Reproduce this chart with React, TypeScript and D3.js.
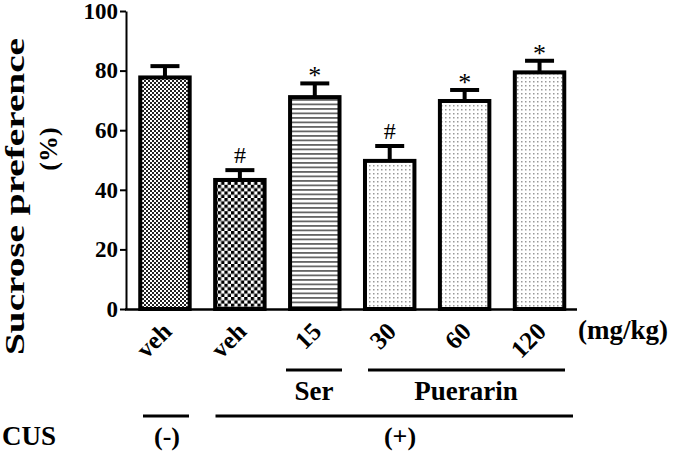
import React, { useEffect, useRef } from "react";
import * as d3 from "d3";

const categories = ["veh", "veh", "15", "30", "60", "120"];
const means = [77.7, 43.3, 71.1, 49.7, 69.8, 79.4];
const errors = [3.8, 3.3, 4.6, 5.0, 3.7, 3.9];
const marks = ["", "#", "*", "#", "*", "*"];
const patterns = ["p1", "p2", "p3", "p4", "p4", "p4"];
const yTicks = [0, 20, 40, 60, 80, 100];

const W = 675;
const H = 454;
const FONT = "'Liberation Serif', 'Times New Roman', serif";

export default function App() {
  const axisRef = useRef<SVGGElement>(null);
  const y = d3.scaleLinear().domain([0, 100]).range([309, 11]);
  const x = d3
    .scaleBand<number>()
    .domain(d3.range(categories.length))
    .range([127.5, 577])
    .paddingInner(0.34)
    .paddingOuter(0.17);

  useEffect(() => {
    if (!axisRef.current) return;
    const g = d3.select(axisRef.current);
    g.selectAll("*").remove();
    g.call(
      d3
        .axisLeft(y)
        .tickValues(yTicks)
        .tickSize(6)
        .tickSizeOuter(0)
        .tickPadding(2)
        .tickFormat(d3.format("d") as any)
    );
    g.select(".domain").attr("stroke", "#000").attr("stroke-width", 2);
    g.selectAll(".tick line").attr("stroke", "#000").attr("stroke-width", 2);
    g.selectAll(".tick text")
      .attr("fill", "#000")
      .style("font-family", FONT)
      .style("font-weight", "bold")
      .style("font-size", "23px");
  }, []);

  const bw = x.bandwidth();
  const capHalf = 14.5;

  return (
    <svg
      width={W}
      height={H}
      style={{ position: "absolute", left: 0, top: 0, background: "#fff" }}
      fontFamily={FONT}
    >
      <defs>
        <pattern id="p1" patternUnits="userSpaceOnUse" width={4} height={4}>
          <rect width={4} height={4} fill="#fff" />
          <rect x={0} y={0} width={2} height={2} fill="#222" />
          <rect x={2} y={2} width={2} height={2} fill="#222" />
        </pattern>
        <pattern id="p2" patternUnits="userSpaceOnUse" width={6.6} height={6.6}>
          <rect width={6.6} height={6.6} fill="#fff" />
          <rect x={0} y={0} width={3.3} height={3.3} fill="#000" />
          <rect x={3.3} y={3.3} width={3.3} height={3.3} fill="#000" />
        </pattern>
        <pattern id="p3" patternUnits="userSpaceOnUse" width={4} height={4.5}>
          <rect width={4} height={4.5} fill="#fff" />
          <rect x={0} y={0} width={4} height={1.8} fill="#666" />
        </pattern>
        <pattern id="p4" patternUnits="userSpaceOnUse" width={4} height={4}>
          <rect width={4} height={4} fill="#fff" />
          <rect x={1} y={1} width={1.5} height={1.5} fill="#999" />
        </pattern>
      </defs>

      {/* y axis */}
      <g ref={axisRef} transform="translate(126,0)" />

      {/* y labels */}
      <text
        transform={`translate(24,196.5) rotate(-90)`}
        textAnchor="middle"
        fontWeight="bold"
        fontSize={28}
        textLength={317}
        lengthAdjust="spacingAndGlyphs"
      >
        Sucrose preference
      </text>
      <text
        transform={`translate(57,149) rotate(-90)`}
        textAnchor="middle"
        fontWeight="bold"
        fontSize={26}
      >
        (%)
      </text>

      {/* bars */}
      {means.map((m, i) => {
        const cx = (x(i) as number) + bw / 2;
        const top = y(m + errors[i]);
        return (
          <g key={i}>
            <line x1={cx} x2={cx} y1={y(m)} y2={top} stroke="#000" strokeWidth={4} />
            <line x1={cx - capHalf} x2={cx + capHalf} y1={top} y2={top} stroke="#000" strokeWidth={4} />
            <rect
              x={x(i)}
              y={y(m)}
              width={bw}
              height={y(0) - y(m)}
              fill={`url(#${patterns[i]})`}
              stroke="#000"
              strokeWidth={4}
            />
            {marks[i] && (
              <text
                x={cx}
                y={marks[i] === "#" ? top - 7 : top + 1}
                textAnchor="middle"
                fontSize={marks[i] === "#" ? 24 : 26}
              >
                {marks[i]}
              </text>
            )}
            <text
              transform={`translate(${cx + 8},333) rotate(-45)`}
              textAnchor="end"
              fontWeight="bold"
              fontSize={25}
            >
              {categories[i]}
            </text>
          </g>
        );
      })}

      {/* x axis line */}
      <line x1={125} x2={577} y1={309.5} y2={309.5} stroke="#000" strokeWidth={2.5} />

      <text x={578} y={339} fontWeight="bold" fontSize={27}>
        (mg/kg)
      </text>

      {/* group lines */}
      <line x1={286} x2={342} y1={370} y2={370} stroke="#000" strokeWidth={3} />
      <line x1={368} x2={565} y1={370} y2={370} stroke="#000" strokeWidth={3} />
      <text x={314} y={400} textAnchor="middle" fontWeight="bold" fontSize={27}>
        Ser
      </text>
      <text x={466} y={400} textAnchor="middle" fontWeight="bold" fontSize={27}>
        Puerarin
      </text>

      <line x1={143} x2={189} y1={416} y2={416} stroke="#000" strokeWidth={3} />
      <line x1={215.5} x2={573} y1={416} y2={416} stroke="#000" strokeWidth={3} />
      <text x={167} y={445} textAnchor="middle" fontWeight="bold" fontSize={26}>
        (-)
      </text>
      <text x={400} y={445} textAnchor="middle" fontWeight="bold" fontSize={26}>
        (+)
      </text>
      <text x={2} y={445} fontWeight="bold" fontSize={27}>
        CUS
      </text>
    </svg>
  );
}
